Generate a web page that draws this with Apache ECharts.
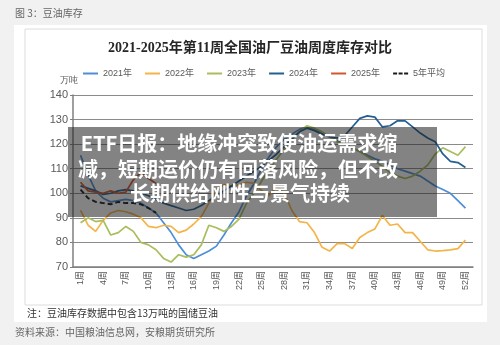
<!DOCTYPE html>
<html>
<head>
<meta charset="utf-8">
<script src="https://cdn.jsdelivr.net/npm/echarts@6/dist/echarts.min.js"></script>
<style>
  html, body { margin: 0; padding: 0; background: #f1f1f1; }
  #main { width: 500px; height: 345px; }
</style>
</head>
<body>
<div id="main"></div>
<script>
// 周次（横轴）
var weeks = [];
for (var i = 1; i <= 52; i++) weeks.push(i + '周');

// 各年豆油周度库存，万吨
var inv2021 = [115.5,107.5,101,98,96.5,97,97.5,97,96,94,
  92,88,84,79,75,73.5,75,76.5,78.5,83,
  88,92.5,99,104,110,115,119,122,124,126,
  127,126,124.5,123,121.5,120,118.5,117,115.5,114,
  113,111.5,110,109,108,107,105,103,101.5,100,
  97,94];
var inv2022 = [93,87,84.5,89,92,93,92.5,91.5,90,86.5,
  86,87,86.5,84,85,87.5,90.5,96,101,103.5,
  103,103.5,104.5,104,101,99,103,100,93,88.5,
  88,84,78,76.5,79.5,79.5,77.5,82,84,85.5,
  91,87,87.5,84,84,80.5,77,76.5,76.7,77,
  77.5,81];
var inv2023 = [88,90,88.5,89,83,84,86.5,84.5,80,79,
  77,73.5,72,75,74,75,79,87,86,84.5,
  86.5,89.5,96,100,105,110,114,118,122,125,
  127.5,126.5,125,123,121,120,118.5,117,115,113,
  111,108.5,107,106,107,109,111.5,116,118.5,117,
  115.5,119];
var inv2024 = [103,102,101,99.5,100,101,101.5,101,100,99,
  97.5,96,95,94,93,93.5,95,97,99,101,
  103,105,107,109,111,113.5,116,119,122,125,
  126.5,125.5,124,123,122.5,123.5,127,130.5,131.5,131,
  127,127.5,129.5,129.5,127,124.5,122.5,121,116,113,
  112.5,110.5];
var inv2025 = [104.5,101,100.5,100,101,100,100.5,105.5,108.5,106,104];
var avg5 = [101.5,98,96.5,96,95.5,96.5,96,96,95.5,94,92];

var names = ['2021年','2022年','2023年','2024年','2025年','5年平均'];
var colors = ['#4d8fd6','#f5b447','#a9bd5c','#245f91','#d2562a','#1a1a1a'];

// 图例图标：实线和虚线
var solidIcon = 'path://M0,0h15v2h-15z';
var dashIcon = 'path://M0,0h4v2h-4z M5.5,0h4v2h-4z M11,0h4v2h-4z';

// 两端各留一个空位，让1周和52周不贴边
function pad(arr) { return [null].concat(arr); }
var xData = [''].concat(weeks, ['']);

var myChart = echarts.init(document.getElementById('main'));

var seriesData = [inv2021, inv2022, inv2023, inv2024, inv2025, avg5];
var series = seriesData.map(function (d, k) {
  return {
    name: names[k],
    type: 'line',
    data: pad(d),
    symbol: 'none',
    lineStyle: {
      width: k === 5 ? 2 : 1.7,
      color: colors[k],
      type: k === 5 ? [5, 3] : 'solid'
    },
    itemStyle: { color: colors[k] }
  };
});

var option = {
  backgroundColor: '#f1f1f1',
  animation: false,
  title: {
    text: '2021-2025年第11周全国油厂豆油周度库存对比',
    left: 'center',
    top: 36,
    textStyle: {
      fontSize: 14,
      fontWeight: 'bold',
      color: '#262626',
      fontFamily: "'Liberation Serif', 'Noto Sans CJK SC'"
    }
  },
  legend: {
    data: names.map(function (n, k) {
      return { name: n, icon: k === 5 ? dashIcon : solidIcon };
    }),
    left: 78,
    top: 64,
    itemWidth: 15,
    itemHeight: 2.5,
    itemGap: 13,
    textStyle: { fontSize: 9, color: '#595959', fontFamily: "'Liberation Sans', 'Noto Sans CJK SC'" }
  },
  grid: { left: 73, right: 27, top: 95, bottom: 78, containLabel: false },
  xAxis: {
    type: 'category',
    data: xData,
    boundaryGap: false,
    axisLine: { lineStyle: { color: '#7f7f7f', width: 1.5 } },
    axisTick: { show: false },
    axisLabel: {
      rotate: 90,
      fontSize: 9,
      color: '#595959',
      margin: 4,
      fontFamily: "'Liberation Sans', 'Noto Sans CJK SC'",
      interval: function (idx) { return idx >= 1 && idx <= 52 && (idx - 1) % 3 === 0; }
    },
    splitLine: { show: false }
  },
  yAxis: {
    type: 'value',
    min: 70,
    max: 140,
    interval: 10,
    name: '万吨',
    nameLocation: 'end',
    nameGap: 10,
    nameTextStyle: { fontSize: 9, color: '#595959', padding: [0, 8, 0, 0] },
    axisLine: { show: true, lineStyle: { color: '#7f7f7f', width: 1.5 } },
    axisTick: { show: true, length: 3, lineStyle: { color: '#7f7f7f' } },
    axisLabel: { fontSize: 11, color: '#595959', margin: 5, fontFamily: "'Liberation Sans'" },
    splitLine: { lineStyle: { color: '#8a8a8a', width: 1 } }
  },
  graphic: [
    { type: 'rect', z: -10, shape: { x: 14, y: 25, width: 473, height: 297 }, style: { fill: '#ffffff' } },
    { type: 'rect', z: -9, shape: { x: 25, y: 29, width: 457, height: 276 }, style: { fill: 'none', stroke: '#dcdcdc', lineWidth: 1 } },
    { type: 'text', z: -8, left: 15, top: 8, style: { text: '图 3：豆油库存', fill: '#666', font: "10px 'Noto Sans CJK SC'" } },
    { type: 'text', z: -8, left: 27, top: 308, style: { text: '注：豆油库存数据中包含13万吨的国储豆油', fill: '#333', font: "10px 'Noto Sans CJK SC'" } },
    { type: 'text', z: -8, left: 15, top: 327, style: { text: '资料来源：中国粮油信息网，安粮期货研究所', fill: '#666', font: "10px 'Noto Sans CJK SC'" } },
    // 标题遮罩条
    { type: 'rect', z: 100, shape: { x: 68, y: 127, width: 369, height: 90 }, style: { fill: 'rgba(30,30,30,0.55)' } },
    { type: 'text', z: 101, x: 239, y: 143, style: { text: 'ETF日报：地缘冲突致使油运需求缩', fill: '#fff', align: 'center', verticalAlign: 'middle', font: "bold 20px 'Noto Sans CJK SC'" } },
    { type: 'text', z: 101, x: 238, y: 169, style: { text: '减，短期运价仍有回落风险，但不改', fill: '#fff', align: 'center', verticalAlign: 'middle', font: "bold 20px 'Noto Sans CJK SC'" } },
    { type: 'text', z: 101, x: 240, y: 193, style: { text: '长期供给刚性与景气持续', fill: '#fff', align: 'center', verticalAlign: 'middle', font: "bold 20px 'Noto Sans CJK SC'" } }
  ],
  series: series
};

myChart.setOption(option);
</script>
</body>
</html>
